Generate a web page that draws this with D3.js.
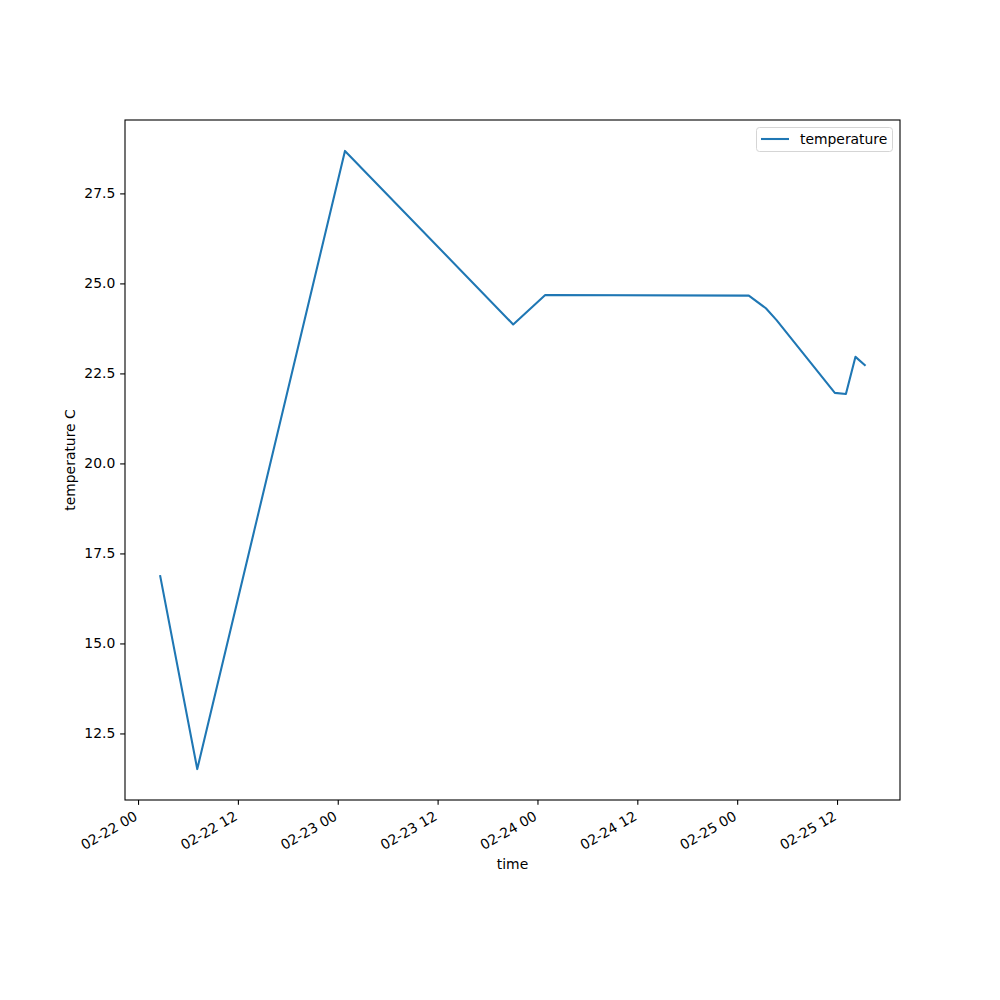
<!DOCTYPE html>
<html>
<head>
<meta charset="utf-8">
<script src="https://cdn.jsdelivr.net/npm/d3@7"></script>
<style>
  body { margin: 0; background: #fff; }
  svg { display: block; font-family: "DejaVu Sans", sans-serif; }
</style>
</head>
<body>
<svg id="chart" width="1000" height="1000"></svg>
<script>
// ---- data ----
const times = [
  "2023-02-22T02:40", "2023-02-22T07:07", "2023-02-23T00:52", "2023-02-23T21:05",
  "2023-02-24T00:56", "2023-02-25T01:24", "2023-02-25T03:27", "2023-02-25T04:44",
  "2023-02-25T11:44", "2023-02-25T13:04", "2023-02-25T14:13", "2023-02-25T15:20"
];
const temperature = [16.87, 11.51, 28.68, 23.86, 24.68, 24.66, 24.31, 23.98, 21.96, 21.93, 22.96, 22.73];
const xTickTimes = [
  "2023-02-22T00:00", "2023-02-22T12:00", "2023-02-23T00:00", "2023-02-23T12:00",
  "2023-02-24T00:00", "2023-02-24T12:00", "2023-02-25T00:00", "2023-02-25T12:00"
];
const yTicks = [12.5, 15.0, 17.5, 20.0, 22.5, 25.0, 27.5];
const seriesName = "temperature";
const xLabel = "time";
const yLabel = "temperature C";

// ---- layout ----
const L = 125, R = 900, T = 120, B = 800;
const fs = 13.9;
const FONT = '"DejaVu Sans", sans-serif';
const parse = d3.utcParse("%Y-%m-%dT%H:%M");
const data = times.map((t, i) => ({ t: parse(t), v: temperature[i] }));

const tExt = d3.extent(data, d => d.t.getTime());
const tPad = (tExt[1] - tExt[0]) * 0.05;
const x = d3.scaleUtc().domain([new Date(tExt[0] - tPad), new Date(tExt[1] + tPad)]).range([L, R]);
const vExt = d3.extent(temperature);
const vPad = (vExt[1] - vExt[0]) * 0.05;
const y = d3.scaleLinear().domain([vExt[0] - vPad, vExt[1] + vPad]).range([B, T]);

const svg = d3.select("#chart");
svg.append("rect").attr("width", 1000).attr("height", 1000).attr("fill", "#fff");

// line
svg.append("path")
  .datum(data)
  .attr("fill", "none")
  .attr("stroke", "#1f77b4")
  .attr("stroke-width", 2.08)
  .attr("stroke-linejoin", "round")
  .attr("stroke-linecap", "square")
  .attr("d", d3.line().x(d => x(d.t)).y(d => y(d.v)));

// x axis
const xAxis = d3.axisBottom(x)
  .tickValues(xTickTimes.map(parse))
  .tickFormat(d3.utcFormat("%m-%d %H"))
  .tickSize(4.86).tickPadding(4.86);
const gx = svg.append("g").attr("transform", `translate(0,${B})`).call(xAxis)
  .attr("font-family", FONT).attr("font-size", fs);
gx.select(".domain").remove();
gx.selectAll(".tick line").attr("stroke", "#000").attr("stroke-width", 1.1);
gx.selectAll(".tick text")
  .attr("fill", "#000")
  .attr("text-anchor", "end")
  .attr("dy", null).attr("y", null)
  .attr("transform", "translate(0,19) rotate(-30)");

// y axis
const yAxis = d3.axisLeft(y)
  .tickValues(yTicks)
  .tickFormat(d3.format(".1f"))
  .tickSize(4.86).tickPadding(4.86);
const gy = svg.append("g").attr("transform", `translate(${L},0)`).call(yAxis)
  .attr("font-family", FONT).attr("font-size", fs);
gy.select(".domain").remove();
gy.selectAll(".tick line").attr("stroke", "#000").attr("stroke-width", 1.1);
gy.selectAll(".tick text").attr("fill", "#000");

// frame
svg.append("rect")
  .attr("x", L).attr("y", T).attr("width", R - L).attr("height", B - T)
  .attr("fill", "none").attr("stroke", "#000").attr("stroke-width", 1.1);

// axis labels
svg.append("text").attr("x", (L + R) / 2).attr("y", 869)
  .attr("text-anchor", "middle").attr("font-size", fs).text(xLabel);
svg.append("text")
  .attr("transform", `translate(75,${(T + B) / 2}) rotate(-90)`)
  .attr("text-anchor", "middle").attr("font-size", fs).text(yLabel);

// legend
const lg = svg.append("g");
lg.append("rect")
  .attr("x", 756.5).attr("y", 127.5).attr("width", 136).attr("height", 24)
  .attr("rx", 3).attr("fill", "#fff").attr("fill-opacity", 0.8)
  .attr("stroke", "#d5d5d5").attr("stroke-width", 1);
lg.append("line")
  .attr("x1", 761).attr("x2", 789).attr("y1", 139).attr("y2", 139)
  .attr("stroke", "#1f77b4").attr("stroke-width", 2.08);
lg.append("text").attr("x", 800).attr("y", 143.5)
  .attr("font-size", fs).text(seriesName);
</script>
</body>
</html>
